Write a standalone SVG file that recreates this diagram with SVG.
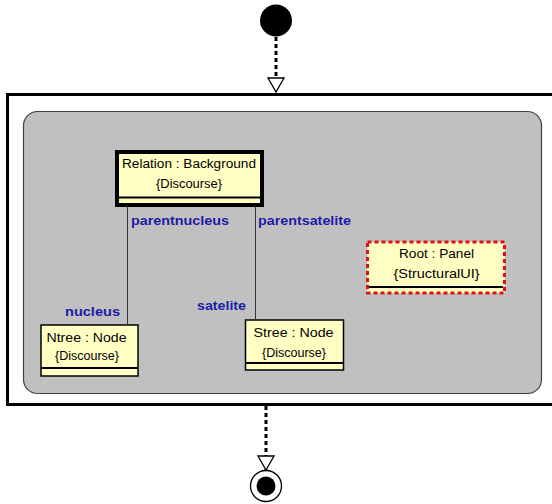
<svg xmlns="http://www.w3.org/2000/svg" width="552" height="504" viewBox="0 0 552 504">
  <defs>
    <style>
      .box { fill: #ffffc4; stroke: #000; stroke-width: 1.5; }
      .sep { stroke: #000; stroke-width: 2; }
      .txt { font-family: "Liberation Sans", Arial, sans-serif; font-size: 12px; fill: #000; text-anchor: middle; }
      .role { font-family: "Liberation Sans", Arial, sans-serif; font-size: 12px; font-weight: bold; fill: #1c1ca6; }
      .link { stroke: #333; stroke-width: 1; fill: none; }
      .flow { stroke: #000; stroke-width: 3; stroke-dasharray: 4 3; fill: none; }
    </style>
    <!-- hollow triangle head, drawn along +x so orient="auto" follows the line -->
    <marker id="openTri" markerWidth="16" markerHeight="18" refX="15" refY="9" orient="auto" markerUnits="userSpaceOnUse" viewBox="0 0 16 18">
      <path d="M1,1 L1,17 L15,9 Z" fill="#fff" stroke="#000" stroke-width="1.3"/>
    </marker>
  </defs>

  <rect width="552" height="504" fill="#fff"/>

  <!-- composite state frame -->
  <g id="frame">
    <rect x="7.5" y="94.5" width="560" height="310" fill="#fff" stroke="#000" stroke-width="3"/>
    <rect x="23.5" y="111.5" width="518" height="282" rx="14" ry="14" fill="#c0c0c0" stroke="#404040" stroke-width="1.2"/>
  </g>

  <!-- initial pseudo-state -->
  <g id="initial">
    <circle cx="276" cy="20.5" r="16" fill="#000"/>
  </g>

  <!-- final state -->
  <g id="final">
    <circle cx="266" cy="486" r="15.5" fill="#fff" stroke="#000" stroke-width="1.3"/>
    <circle cx="266" cy="486" r="9.5" fill="#000"/>
  </g>

  <!-- object nodes -->
  <g id="relation">
    <rect x="117" y="152" width="145" height="53" fill="#ffffc4" stroke="#000" stroke-width="4"/>
    <line class="sep" x1="117" y1="197.5" x2="262" y2="197.5"/>
    <text class="txt" x="189" y="168" textLength="134" lengthAdjust="spacingAndGlyphs">Relation : Background</text>
    <text class="txt" x="189" y="188" textLength="66" lengthAdjust="spacingAndGlyphs">{Discourse}</text>
  </g>

  <g id="ntree">
    <rect class="box" x="41" y="325" width="97" height="51"/>
    <line class="sep" x1="41" y1="368" x2="138" y2="368"/>
    <text class="txt" x="86.5" y="342" textLength="80" lengthAdjust="spacingAndGlyphs">Ntree : Node</text>
    <text class="txt" x="87" y="360" textLength="64" lengthAdjust="spacingAndGlyphs">{Discourse}</text>
  </g>

  <g id="stree">
    <rect class="box" x="245.5" y="320" width="98" height="50"/>
    <line class="sep" x1="245.5" y1="363" x2="343.5" y2="363"/>
    <text class="txt" x="293.5" y="337" textLength="80" lengthAdjust="spacingAndGlyphs">Stree : Node</text>
    <text class="txt" x="294" y="357" textLength="64" lengthAdjust="spacingAndGlyphs">{Discourse}</text>
  </g>

  <g id="root">
    <rect x="367.5" y="242" width="137" height="51" fill="#ffffc4" stroke="#e01010" stroke-width="3" stroke-dasharray="4 3"/>
    <line class="sep" x1="369" y1="287" x2="503" y2="287"/>
    <text class="txt" x="436.5" y="258" textLength="75" lengthAdjust="spacingAndGlyphs">Root : Panel</text>
    <text class="txt" x="436.5" y="278" textLength="86" lengthAdjust="spacingAndGlyphs">{StructuralUI}</text>
  </g>

  <!-- connectors -->
  <g id="connectors">
    <line class="flow" x1="276" y1="37" x2="276" y2="92" marker-end="url(#openTri)"/>
    <line class="flow" x1="266" y1="406" x2="266" y2="470" marker-end="url(#openTri)"/>
    <line class="link" x1="127.5" y1="206" x2="127.5" y2="325"/>
    <line class="link" x1="255.5" y1="206" x2="255.5" y2="320"/>
    <text class="role" x="131" y="225" textLength="98" lengthAdjust="spacingAndGlyphs">parentnucleus</text>
    <text class="role" x="258" y="225" textLength="93" lengthAdjust="spacingAndGlyphs">parentsatelite</text>
    <text class="role" x="65" y="316" textLength="55" lengthAdjust="spacingAndGlyphs">nucleus</text>
    <text class="role" x="197" y="310" textLength="49" lengthAdjust="spacingAndGlyphs">satelite</text>
  </g>
</svg>
